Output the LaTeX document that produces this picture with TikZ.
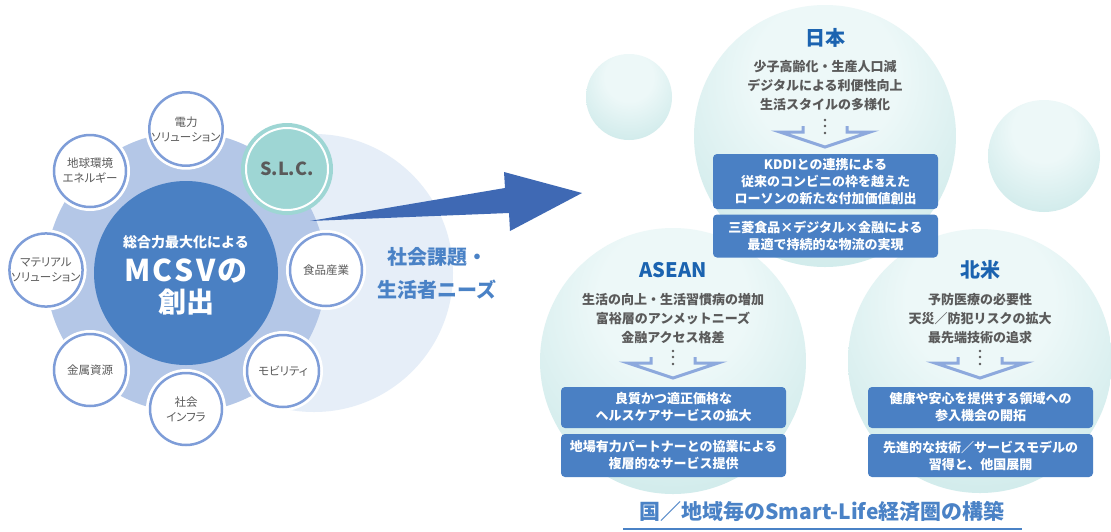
\documentclass[tikz,border=0pt]{standalone}
\usepackage{fontspec}
\setmainfont{Noto Sans CJK JP}
\newfontfamily\satfont[RawFeature=+palt]{Noto Sans CJK JP}
\newfontfamily\mcsvfont[LetterSpace=8]{Noto Sans CJK JP}
\definecolor{paleb}{HTML}{E6EEF8}
\definecolor{ringc}{HTML}{B4C7E7}
\definecolor{corec}{HTML}{4A80C3}
\definecolor{satb}{HTML}{7E9DD8}
\definecolor{slcc}{HTML}{9ED6D4}
\definecolor{arrowc}{HTML}{3F69B4}
\definecolor{needc}{HTML}{4A82C6}
\definecolor{titlec}{HTML}{1B63B0}
\definecolor{grayt}{HTML}{5A5A5A}
\definecolor{boxc}{HTML}{4A80C4}
\definecolor{chevc}{HTML}{8DA9DD}
\definecolor{sphin}{HTML}{EDF8F8}
\definecolor{sphout}{HTML}{A9D9D9}
\pgfdeclareradialshading{sphere}{\pgfpoint{0bp}{14bp}}{color(0bp)=(sphin); color(14bp)=(sphin); color(62bp)=(sphout); color(80bp)=(sphout)}
\begin{document}
\begin{tikzpicture}[x=1pt,y=-1pt,
  sat/.style={circle, inner sep=0pt, minimum size=72pt, fill=white, draw=satb, line width=2.5pt,
    preaction={draw=white, line width=8pt}, align=center, text=grayt,
    font=\satfont\fontsize{11.5pt}{15pt}\selectfont},
  slcnode/.style={circle, inner sep=0pt, minimum size=92pt, fill=slcc, text=grayt,
    font=\bfseries\fontsize{18pt}{20pt}\selectfont},
  coretxt/.style={text=white, inner sep=0pt},
  needs/.style={text=needc, align=center, inner sep=0pt, font=\bfseries\fontsize{20pt}{33pt}\selectfont},
  ttl/.style={text=titlec, inner sep=0pt, font=\bfseries\fontsize{20pt}{22pt}\selectfont},
  issues/.style={text=grayt, align=center, inner sep=0pt, font=\bfseries\fontsize{13pt}{19pt}\selectfont},
  boxn/.style={rounded corners=4pt, fill=boxc, text=white, align=center, inner sep=0pt,
    minimum width=225pt, font=\bfseries\fontsize{13pt}{17pt}\selectfont},
  chevline/.style={draw=chevc, line width=3pt, line join=miter},
  chevpic/.pic={
    \draw[chevline] (-22,-21) -- (-22,-15) -- (-45,-15) -- (0,0) -- (45,-15) -- (22,-15) -- (22,-21);
    \fill[grayt] (0,-27) circle (1.4pt) (0,-21) circle (1.4pt) (0,-14) circle (1.4pt);
  }
]
\useasboundingbox (0,0) rectangle (1111,531);
\fill[white] (0,0) rectangle (1111,531);

% ---------- left part ----------
\fill[paleb] (314,273) circle (139pt);
\fill[ringc] (186,272) circle (140pt);
\node[circle, fill=corec, minimum size=184pt, inner sep=0pt] (core) at (186,273) {};
\node[coretxt, font=\bfseries\fontsize{14pt}{16pt}\selectfont] (core1) at (186,242) {総合力最大化による};
\node[coretxt, font=\mcsvfont\bfseries\fontsize{30pt}{32pt}\selectfont] (core2) at (186,271) {MCSVの};
\node[coretxt, font=\bfseries\fontsize{28pt}{30pt}\selectfont] (core3) at (186,302) {創出};

\node[sat] (denryoku) at (186,129) {電力\\ソリューション};
\node[sat] (chikyu) at (90,171) {地球環境\\エネルギー};
\node[sat] (shokuhin) at (326,270) {食品産業};
\node[sat] (material) at (46,270) {マテリアル\\ソリューション};
\node[sat] (kinzoku) at (90,370) {金属資源};
\node[sat] (infra) at (186,409) {社会\\インフラ};
\node[sat] (mobility) at (283,371) {モビリティ};
\node[slcnode] (slc) at (287,169) {S.L.C.};
\draw[white, line width=2pt] (slc.center) circle (41pt);

% big arrow
\fill[arrowc] (310,221) -- (505,188) -- (504,172) -- (582,193) -- (510,231) -- (509,213) -- cycle;

\node[needs] (needs) at (437,273) {社会課題・\\生活者ニーズ};

% ---------- right part ----------
\shade[shading=sphere] (629,97) circle (43pt);
\shade[shading=sphere] (1044,156) circle (56pt);
\shade[shading=sphere] (673,361) circle (133pt);
\shade[shading=sphere] (980,361) circle (132pt);
\shade[shading=sphere] (825,136) circle (131pt);

% Japan
\node[ttl] (jp) at (825,38) {日本};
\node[issues] (jpiss) at (825,86) {少子高齢化・生産人口減\\デジタルによる利便性向上\\生活スタイルの多様化};
\pic at (825,147) {chevpic};
\node[boxn, minimum height=55pt] (jpb1) at (825.5,181.5) {KDDIとの連携による\\従来のコンビニの枠を越えた\\ローソンの新たな付加価値創出};
\node[boxn, minimum height=43pt] (jpb2) at (825.5,236) {三菱食品×デジタル×金融による\\最適で持続的な物流の実現};

% ASEAN
\node[ttl] (as) at (673,270) {ASEAN};
\node[issues] (asiss) at (673,319) {生活の向上・生活習慣病の増加\\富裕層のアンメットニーズ\\金融アクセス格差};
\pic at (673,378) {chevpic};
\node[boxn, minimum height=41pt] (asb1) at (673.5,407.5) {良質かつ適正価格な\\ヘルスケアサービスの拡大};
\node[boxn, minimum height=43pt] (asb2) at (673.5,455.5) {地場有力パートナーとの協業による\\複層的なサービス提供};

% North America
\node[ttl] (na) at (980,270) {北米};
\node[issues] (naiss) at (980,319) {予防医療の必要性\\天災／防犯リスクの拡大\\最先端技術の追求};
\pic at (980,378) {chevpic};
\node[boxn, minimum height=41pt] (nab1) at (980.5,407.5) {健康や安心を提供する領域への\\参入機会の開拓};
\node[boxn, minimum height=43pt] (nab2) at (980.5,455.5) {先進的な技術／サービスモデルの\\習得と、他国展開};

% bottom title
\node[text=needc, inner sep=0pt, font=\bfseries\fontsize{21pt}{23pt}\selectfont] (goal) at (822,512) {国／地域毎のSmart-Life経済圏の構築};
\coordinate (ulL) at (623,529);
\coordinate (ulR) at (1022,529);
\draw[needc, line width=2pt] (ulL) -- (ulR);
\end{tikzpicture}
\end{document}
